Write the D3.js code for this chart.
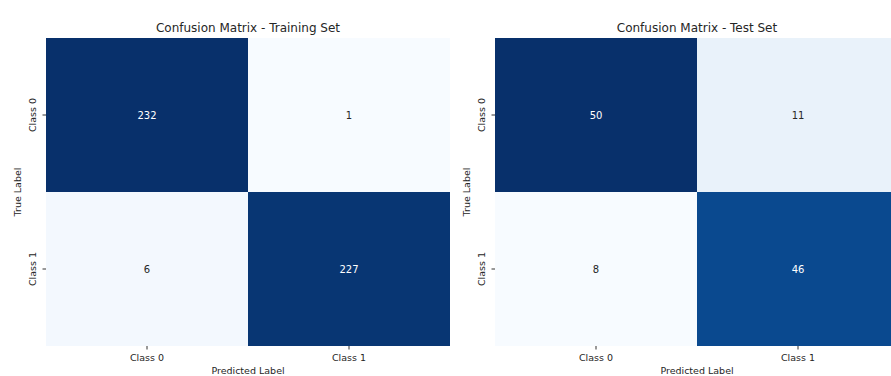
<!DOCTYPE html>
<html><head><meta charset="utf-8">
<script src="https://cdn.jsdelivr.net/npm/d3@7"></script>
<style>body{margin:0;background:#fff;} svg{display:block;font-family:"DejaVu Sans",sans-serif;}</style>
</head><body>
<svg id="c" width="891" height="376"></svg>
<script>
const classes = ["Class 0", "Class 1"];
const titles = ["Confusion Matrix - Training Set", "Confusion Matrix - Test Set"];
const trainValues = [[232, 1], [6, 227]];
const testValues = [[50, 11], [8, 46]];
const xLabel = "Predicted Label";
const yLabel = "True Label";

const svg = d3.select("#c");
const panels = [
  {title: titles[0], m: trainValues, x0: 46},
  {title: titles[1], m: testValues, x0: 495}
];
const W = 404, plotTop = 38, H = 308;

panels.forEach(p => {
  const g = svg.append("g");
  const x = d3.scaleBand().domain(classes).range([p.x0, p.x0 + W]);
  const y = d3.scaleBand().domain(classes).range([plotTop, plotTop + H]);
  const flat = p.m.flat();
  const color = d3.scaleSequential(d3.interpolateBlues).domain([d3.min(flat), d3.max(flat)]);
  const cells = [];
  p.m.forEach((row, i) => row.forEach((v, j) => cells.push({r: classes[i], c: classes[j], v})));
  g.selectAll("rect").data(cells).join("rect")
    .attr("x", d => x(d.c)).attr("y", d => y(d.r))
    .attr("width", x.bandwidth()).attr("height", y.bandwidth())
    .attr("fill", d => color(d.v));
  g.selectAll("text.v").data(cells).join("text").attr("class", "v")
    .attr("x", d => x(d.c) + x.bandwidth() / 2).attr("y", d => y(d.r) + y.bandwidth() / 2)
    .attr("text-anchor", "middle").attr("dominant-baseline", "central")
    .attr("font-size", 10)
    .attr("fill", d => (color.domain()[1] - d.v) < (d.v - color.domain()[0]) ? "#ffffff" : "#262626")
    .text(d => d.v);
  const xa = g.append("g").attr("transform", `translate(0,${plotTop + H})`)
    .call(d3.axisBottom(x).tickSize(3.5).tickPadding(5));
  xa.select(".domain").remove();
  xa.selectAll("line").attr("stroke", "#333");
  xa.selectAll("text").attr("font-size", 9.5).attr("fill", "#262626").attr("font-family", "DejaVu Sans");
  const ya = g.append("g").attr("transform", `translate(${p.x0},0)`)
    .call(d3.axisLeft(y).tickSize(3.5).tickPadding(3));
  ya.select(".domain").remove();
  ya.selectAll("line").attr("stroke", "#333");
  ya.selectAll("text").attr("font-size", 9.5).attr("fill", "#262626").attr("font-family", "DejaVu Sans")
    .attr("text-anchor", "middle").attr("dy", null)
    .attr("transform", "rotate(-90)").attr("x", 0).attr("y", -10);
  g.append("text").attr("x", p.x0 + W / 2).attr("y", plotTop - 6)
    .attr("text-anchor", "middle").attr("font-size", 12).attr("fill", "#262626").text(p.title);
  g.append("text").attr("x", p.x0 + W / 2).attr("y", 374)
    .attr("text-anchor", "middle").attr("font-size", 9.5).attr("fill", "#262626").text(xLabel);
  g.append("text").attr("transform", `translate(${p.x0 - 25},${plotTop + H / 2}) rotate(-90)`)
    .attr("text-anchor", "middle").attr("font-size", 9.5).attr("fill", "#262626").text(yLabel);
});
</script>
</body></html>
